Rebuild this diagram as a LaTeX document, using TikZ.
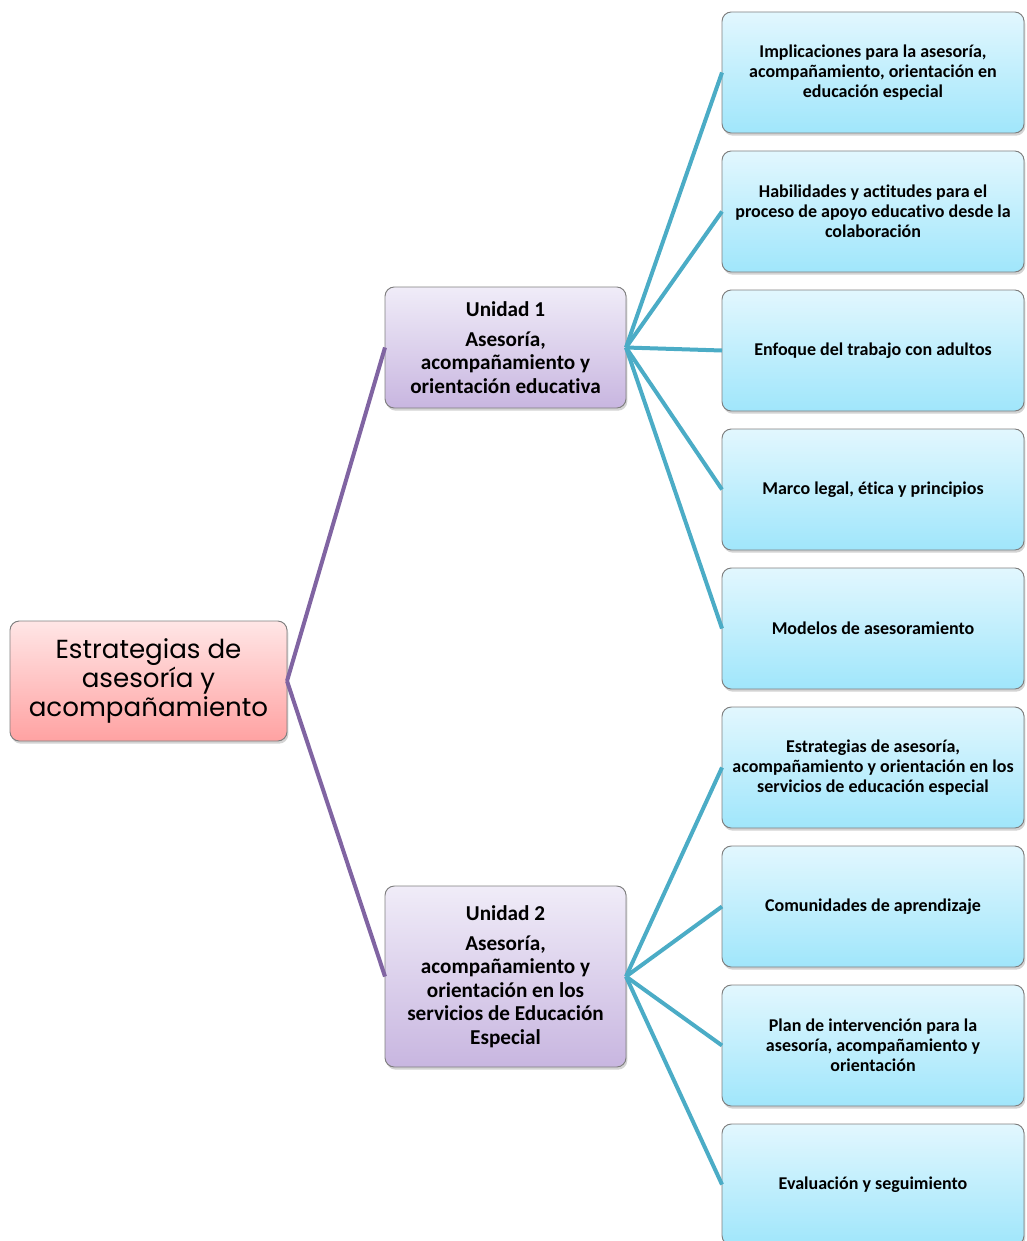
\documentclass[tikz,border=0pt]{standalone}
\usepackage{fontspec}
\setmainfont{Carlito}[Ligatures=NoCommon]
\newfontfamily\rootfont{Poppins}
\usetikzlibrary{positioning}
\usetikzlibrary{shadows}

\definecolor{roottop}{HTML}{FFE6E6}
\definecolor{rootbottom}{HTML}{FFA2A2}
\definecolor{unittop}{HTML}{F0ECF8}
\definecolor{unitbottom}{HTML}{C8B6E0}
\definecolor{leaftop}{HTML}{E2F7FE}
\definecolor{leafbottom}{HTML}{A0E6FB}
\definecolor{purpleline}{HTML}{8064A2}
\definecolor{tealline}{HTML}{4BACC6}
\definecolor{boxline}{HTML}{7F7F7F}

\begin{document}
\begin{tikzpicture}[x=0.75pt,y=0.75pt,every text node part/.style={align=center}]

\tikzstyle{bordered} = [rounded corners=7pt,rectangle,draw=boxline,line width=0.7pt,outer sep=0,inner sep=2pt,
  drop shadow={shadow xshift=1pt,shadow yshift=-2pt,opacity=0.35}]
\tikzstyle{rootbox} = [bordered,top color=roottop,bottom color=rootbottom,minimum width=207.75pt,minimum height=90pt,
  font=\rootfont\fontsize{19.6}{21.75}\selectfont]
\tikzstyle{unitbox} = [bordered,top color=unittop,bottom color=unitbottom,minimum width=180.75pt,
  font=\bfseries\fontsize{15.9}{17.6}\selectfont]
\tikzstyle{leafbox} = [bordered,top color=leaftop,bottom color=leafbottom,minimum width=226.5pt,minimum height=90.75pt,
  font=\bfseries\fontsize{13.5}{15}\selectfont]
\tikzstyle{rootline} = [draw=purpleline,line width=3pt]
\tikzstyle{leafline} = [draw=tealline,line width=3pt]

\useasboundingbox (0,0) rectangle (1027,-1241);

\node [rootbox] (root) at (148.5,-681) {Estrategias de\\asesoría y\\acompañamiento};

\node [unitbox, minimum height=90.75pt] (unit_1) at (505.5,-347.5)
  {Unidad 1\\[5pt]Asesoría,\\acompañamiento y\\orientación educativa};
\node [unitbox, minimum height=135.75pt] (unit_2) at (505.5,-976.5)
  {Unidad 2\\[5pt]Asesoría,\\acompañamiento y\\orientación en los\\servicios de Educación\\Especial};

\node [leafbox, anchor=north west] (leaf_1) at (722,-12)
  {Implicaciones para la asesoría,\\acompañamiento, orientación en\\educación especial};
\node [leafbox, below=13.5pt of leaf_1] (leaf_2)
  {Habilidades y actitudes para el\\proceso de apoyo educativo desde la\\colaboración};
\node [leafbox, below=13.5pt of leaf_2] (leaf_3) {Enfoque del trabajo con adultos};
\node [leafbox, below=13.5pt of leaf_3] (leaf_4) {Marco legal, ética y principios};
\node [leafbox, below=13.5pt of leaf_4] (leaf_5) {Modelos de asesoramiento};
\node [leafbox, below=13.5pt of leaf_5] (leaf_6)
  {Estrategias de asesoría,\\acompañamiento y orientación en los\\servicios de educación especial};
\node [leafbox, below=13.5pt of leaf_6] (leaf_7) {Comunidades de aprendizaje};
\node [leafbox, below=13.5pt of leaf_7] (leaf_8)
  {Plan de intervención para la\\asesoría, acompañamiento y\\orientación};
\node [leafbox, below=13.5pt of leaf_8] (leaf_9) {Evaluación y seguimiento};

\path[rootline] (root.east) -- (unit_1.west);
\path[rootline] (root.east) -- (unit_2.west);

\foreach \n in {1,...,5}
  \path[leafline] (unit_1.east) -- (leaf_\n.west);
\foreach \n in {6,...,9}
  \path[leafline] (unit_2.east) -- (leaf_\n.west);
\end{tikzpicture}
\end{document}
